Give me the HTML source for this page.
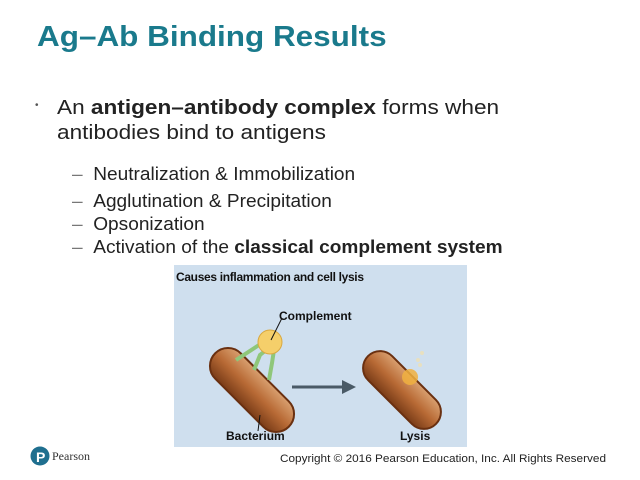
<html><head><style>
body{margin:0;width:640px;height:480px;background:#fff;position:relative;font-family:"Liberation Sans",sans-serif;overflow:hidden}
.t{position:absolute;white-space:nowrap;transform-origin:0 0}
</style></head><body>
<div class="t" style="left:37px;top:21px;font-size:29px;font-weight:bold;color:#1a7a8c;transform:scaleX(1.085)">Ag–Ab Binding Results</div>
<div class="t" style="left:35px;top:100px;font-size:10px;color:#555">•</div>
<div class="t" style="left:57px;top:96px;font-size:20px;color:#222;line-height:25px;transform:scaleX(1.13)">An <b>antigen–antibody complex</b> forms when<br>antibodies bind to antigens</div>
<div class="t" style="left:72px;top:162px;font-size:18px;color:#222;line-height:24px;transform:scaleX(1.06)">
<span style="color:#777">–</span>&nbsp;&nbsp;Neutralization &amp; Immobilization</div>
<div class="t" style="left:72px;top:190px;font-size:18px;color:#222;line-height:23px;transform:scaleX(1.06)">
<span style="color:#777">–</span>&nbsp;&nbsp;Agglutination &amp; Precipitation<br>
<span style="color:#777">–</span>&nbsp;&nbsp;Opsonization<br>
<span style="color:#777">–</span>&nbsp;&nbsp;Activation of the <b>classical complement system</b></div>
<svg style="position:absolute;left:174px;top:265px" width="293" height="182">
<defs><linearGradient id="g" x1="0" y1="0" x2="0" y2="1"><stop offset="0" stop-color="#d9a070"/><stop offset=".5" stop-color="#b86a35"/><stop offset="1" stop-color="#7a3c18"/></linearGradient></defs>
<rect width="293" height="182" fill="#cfdfee"/>
<text x="2" y="16" font-size="12" font-weight="bold" font-family="Liberation Sans" textLength="188" fill="#111">Causes inflammation and cell lysis</text>
<g transform="translate(78,125) rotate(45)"><rect x="-52" y="-18" width="104" height="36" rx="18" fill="url(#g)" stroke="#6a3010" stroke-width="2"/></g>
<g stroke="#8fc77a" stroke-width="4" fill="none"><path d="M62 95 L85 80 L98 78"/><path d="M80 105 L86 90 L96 82"/><path d="M95 115 L98 98 L100 85"/></g>
<circle cx="96" cy="77" r="12" fill="#f5cf6a" stroke="#d9a840"/>
<line x1="97" y1="75" x2="108" y2="53" stroke="#111"/>
<text x="105" y="55" font-size="12" font-weight="bold" font-family="Liberation Sans" fill="#111">Complement</text>
<line x1="118" y1="122" x2="170" y2="122" stroke="#4a5a66" stroke-width="3"/>
<polygon points="168,115 182,122 168,129" fill="#4a5a66"/>
<g transform="translate(228,125) rotate(45)"><rect x="-48" y="-17" width="96" height="34" rx="17" fill="url(#g)" stroke="#6a3010" stroke-width="2"/></g>
<circle cx="236" cy="112" r="8" fill="#f0b040" opacity=".85"/>
<g fill="#e8e0c0"><circle cx="244" cy="95" r="2"/><circle cx="248" cy="88" r="2"/><circle cx="246" cy="100" r="2"/></g>
<line x1="86" y1="150" x2="84" y2="166" stroke="#111"/>
<text x="52" y="175" font-size="12" font-weight="bold" font-family="Liberation Sans" fill="#111">Bacterium</text>
<text x="226" y="175" font-size="12" font-weight="bold" font-family="Liberation Sans" fill="#111">Lysis</text>
</svg>
<svg style="position:absolute;left:30px;top:446px" width="20" height="20"><circle cx="10" cy="10" r="9.5" fill="#1f6f8f"/><text x="6" y="16" font-size="14" font-weight="bold" fill="#fff" font-family="Liberation Sans">P</text></svg>
<div class="t" style="left:52px;top:449px;font-size:12px;color:#333;font-family:'Liberation Serif',serif">Pearson</div>
<div class="t" style="left:280px;top:453px;font-size:11px;color:#222;transform:scaleX(1.07)">Copyright © 2016 Pearson Education, Inc. All Rights Reserved</div>
</body></html>
